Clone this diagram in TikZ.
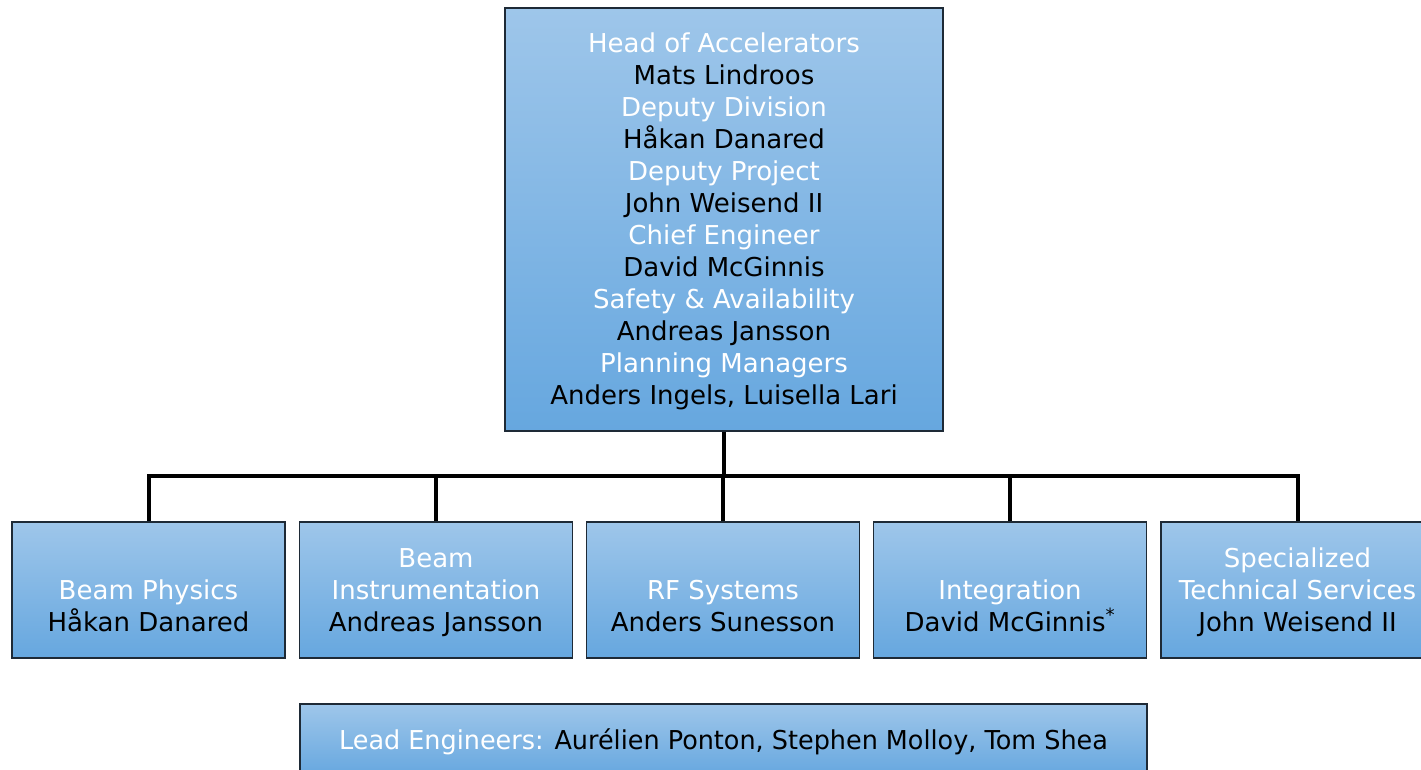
\documentclass[tikz,border=0pt]{standalone}
\usepackage{fontspec}
\setmainfont{DejaVu Sans}
\usepackage{tikz}
\usetikzlibrary{positioning}
\definecolor{OrgTop}{HTML}{9EC6EA}
\definecolor{OrgBot}{HTML}{66A7DF}
\definecolor{OrgEdge}{HTML}{1E2A36}
\newcommand{\rowstrut}{\rule[-4.9pt]{0pt}{24pt}}
\newcommand{\role}[1]{{\color{white}\rowstrut#1}}
\newcommand{\who}[1]{\rowstrut#1}
\begin{document}
\begin{tikzpicture}[
    x=0.75pt,y=-0.75pt,
    unit/.style={draw=OrgEdge,line width=0.9pt,top color=OrgTop,bottom color=OrgBot,
      align=center,inner sep=0pt,font=\fontsize{19.5}{24}\selectfont},
    group/.style={unit,minimum width=204.75pt,minimum height=102pt},
    link/.style={line width=3pt}
  ]
  \useasboundingbox (0,0) rectangle (1421,769);
  \node[unit,minimum width=328.5pt,minimum height=317.25pt] (head) at (724,219.5)
    {\role{Head of Accelerators}\\\who{Mats Lindroos}\\\role{Deputy Division}\\\who{H\r{a}kan Danared}\\
     \role{Deputy Project}\\\who{John Weisend II}\\\role{Chief Engineer}\\\who{David McGinnis}\\
     \role{Safety \& Availability}\\\who{Andreas Jansson}\\\role{Planning Managers}\\\who{Anders Ingels, Luisella Lari}};
  \node[group] (bp) at (148.5,590) {\rowstrut\\\role{Beam Physics}\\\who{H\r{a}kan Danared}};
  \node[group] (bi) at (436,590) {\role{Beam}\\\role{Instrumentation}\\\who{Andreas Jansson}};
  \node[group] (rf) at (723,590) {\rowstrut\\\role{RF Systems}\\\who{Anders Sunesson}};
  \node[group] (ig) at (1010,590) {\rowstrut\\\role{Integration}\\\who{David McGinnis\textsuperscript{*}}};
  \node[group] (sts) at (1297.5,590) {\role{Specialized}\\\role{Technical Services}\\\who{John Weisend II}};
  \node[unit,minimum width=635.25pt,minimum height=54pt] (lead) at (723.5,740)
    {\scalebox{0.98}[1]{\role{Lead Engineers:} Aur\'elien Ponton, Stephen Molloy, Tom Shea}};
  % tree lines
  \coordinate (bus) at (724,476);
  \draw[link] (head.south) -- (bus);
  \draw[link] (bp.north) |- (bus) -| (sts.north);
  \draw[link] (bi.north) -- (bi.north |- bus);
  \draw[link] (rf.north) -- (rf.north |- bus);
  \draw[link] (ig.north) -- (ig.north |- bus);
\end{tikzpicture}
\end{document}
